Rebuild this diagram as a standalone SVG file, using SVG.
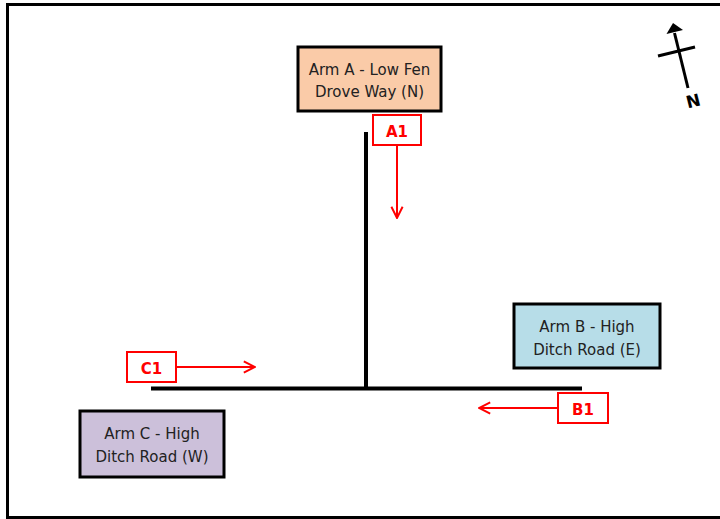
<svg xmlns="http://www.w3.org/2000/svg" width="720" height="519" viewBox="0 0 720 519">
<style>
.box{stroke:#000;stroke-width:3}
.t{font-family:"DejaVu Sans",Verdana,sans-serif;font-size:15px;fill:#222;text-anchor:middle}
.lb{fill:#fff;stroke:#f00;stroke-width:2}
.lt{font-family:"DejaVu Sans",Verdana,sans-serif;font-size:15px;font-weight:bold;fill:#f00;text-anchor:middle}
.arr{stroke:#f00;stroke-width:2;fill:none}
.road{stroke:#000;stroke-width:4;fill:none}
</style>
<defs>
<marker id="ah" viewBox="0 0 10 10" refX="9" refY="5" markerWidth="14" markerHeight="14" markerUnits="userSpaceOnUse" orient="auto">
<path d="M1,1 L9,5 L1,9" fill="none" stroke="#f00" stroke-width="1.4"/>
</marker>
</defs>
<rect x="0" y="0" width="720" height="519" fill="#fff"/>
<rect x="7.5" y="4.5" width="730" height="513" fill="none" stroke="#000" stroke-width="3"/>
<g id="roads">
<line class="road" x1="366" y1="132" x2="366" y2="388"/>
<line class="road" x1="151" y1="388.5" x2="582" y2="388.5"/>
</g>
<g id="armA">
<rect class="box" x="298" y="47" width="143" height="64" fill="#FACBA8"/>
<text class="t" x="369.5" y="75">Arm A - Low Fen</text>
<text class="t" x="369.5" y="97">Drove Way (N)</text>
</g>
<g id="armB">
<rect class="box" x="514" y="304" width="146" height="64" fill="#B7DDE8"/>
<text class="t" x="587" y="332">Arm B - High</text>
<text class="t" x="587" y="355">Ditch Road (E)</text>
</g>
<g id="armC">
<rect class="box" x="80" y="411" width="144" height="66" fill="#CCC0DA"/>
<text class="t" x="152" y="439">Arm C - High</text>
<text class="t" x="152" y="462">Ditch Road (W)</text>
</g>
<g id="connectors">
<line class="arr" x1="397" y1="145" x2="397" y2="218" marker-end="url(#ah)"/>
<line class="arr" x1="176" y1="367" x2="255" y2="367" marker-end="url(#ah)"/>
<line class="arr" x1="558" y1="408" x2="479" y2="408" marker-end="url(#ah)"/>
</g>
<g id="A1">
<rect class="lb" x="373" y="115" width="48" height="30"/>
<text class="lt" x="397" y="137">A1</text>
</g>
<g id="C1">
<rect class="lb" x="127" y="352" width="49" height="30"/>
<text class="lt" x="151.5" y="374">C1</text>
</g>
<g id="B1">
<rect class="lb" x="558" y="393" width="50" height="30"/>
<text class="lt" x="583" y="415">B1</text>
</g>
<g id="compass">
<line x1="674.5" y1="33" x2="688" y2="88" stroke="#000" stroke-width="3"/>
<polygon points="673,23 666.5,34 683,30" fill="#000"/>
<line x1="658" y1="56" x2="695" y2="47" stroke="#000" stroke-width="3"/>
<text x="693" y="107" transform="rotate(-14 693 100)" font-family="'DejaVu Sans', Verdana, sans-serif" font-size="17" font-weight="bold" text-anchor="middle" fill="#000">N</text>
</g>
</svg>
